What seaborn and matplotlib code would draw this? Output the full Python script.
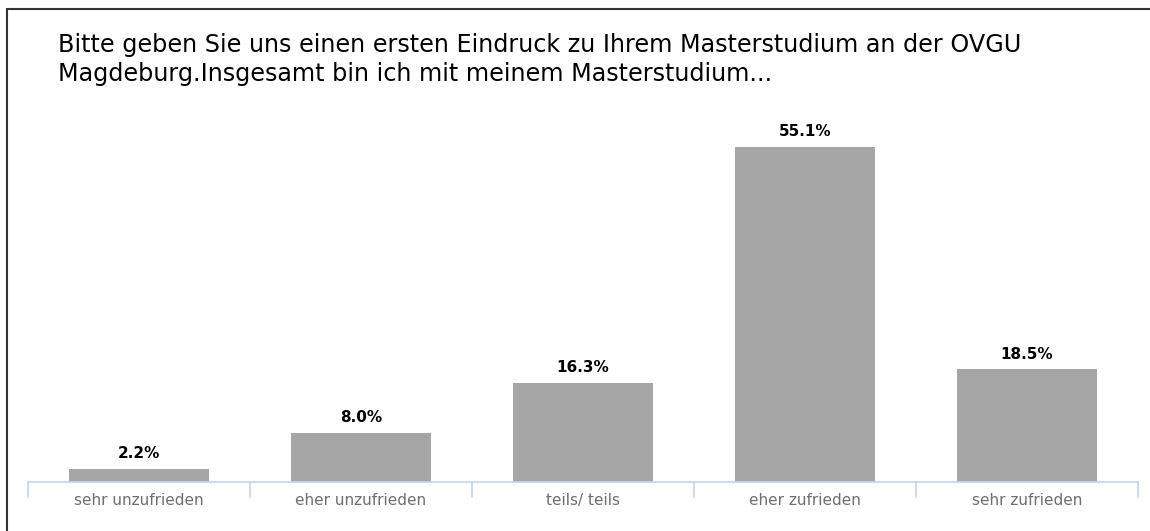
import matplotlib
matplotlib.use("Agg")
import matplotlib.pyplot as plt
import seaborn as sns
import pandas as pd
from matplotlib.patches import Rectangle

categories = ["sehr unzufrieden", "eher unzufrieden", "teils/ teils", "eher zufrieden", "sehr zufrieden"]
values = [2.2, 8.0, 16.3, 55.1, 18.5]
title = ("Bitte geben Sie uns einen ersten Eindruck zu Ihrem Masterstudium an der OVGU\n"
         "Magdeburg.Insgesamt bin ich mit meinem Masterstudium...")

sns.set_theme(style="white")
plt.rcParams['font.family'] = ['DejaVu Sans']

df = pd.DataFrame({"cat": categories, "val": values})

fig = plt.figure(figsize=(11.5, 5.31), dpi=100)
W, H = 1150, 531
# axes in pixel coords: left 28, right 1138, bottom 482, top 117
ax = fig.add_axes([28 / W, (H - 482) / H, 1110 / W, (482 - 117) / H])

sns.barplot(data=df, x="cat", y="val", color="#a6a6a6", width=0.635,
            saturation=1, ax=ax, edgecolor="none")
ax.set_ylim(0, 60)
ax.set_xlim(-0.5, 4.5)

for i, v in enumerate(values):
    ax.text(i, v + 1.3, f"{v:.1f}%", ha="center", va="bottom",
            fontsize=11, fontweight="bold", color="black")

for s in ["top", "right", "left"]:
    ax.spines[s].set_visible(False)
ax.spines["bottom"].set_color("#c5d3ea")
ax.spines["bottom"].set_linewidth(1.2)
ax.set_yticks([])
ax.set_xlabel("")
ax.set_ylabel("")
ax.set_xticks(range(len(categories)))
ax.set_xticklabels(categories, fontsize=11, color="#6e6e6e")
ax.tick_params(axis="x", length=0, pad=8)

# category separators
for b in [-0.5, 0.5, 1.5, 2.5, 3.5, 4.5]:
    ax.plot([b, b], [0, -0.04], transform=ax.get_xaxis_transform(),
            color="#c5d3ea", lw=1.2, clip_on=False)

# outer frame (top and left visible)
fig.patches.append(Rectangle((7 / W, -0.1), 1.2, (H - 9) / H + 0.1,
                             transform=fig.transFigure, fill=False,
                             edgecolor="#333333", lw=1.5))

fig.text(58 / W, 1 - 33 / H, title, ha="left", va="top", fontsize=17.2,
         color="black", linespacing=1.28)

fig.savefig("out.png", dpi=100)
